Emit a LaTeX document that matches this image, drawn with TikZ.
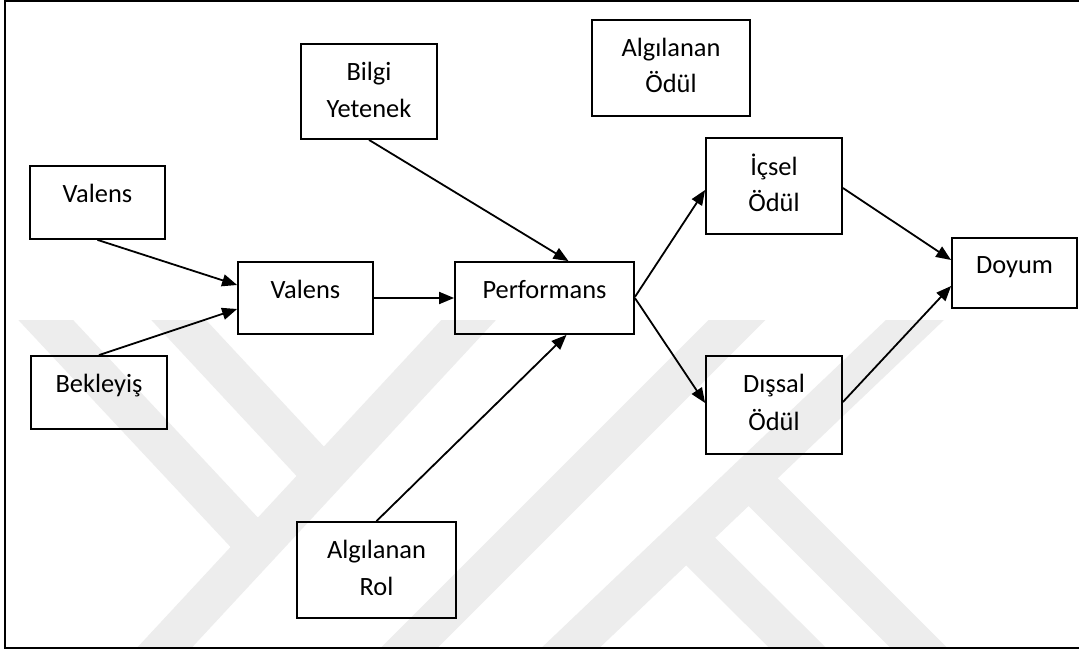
\documentclass[tikz,border=0pt]{standalone}
\usepackage{fontspec}
\setmainfont{Carlito}
\usetikzlibrary{arrows.meta}
\begin{document}
\begin{tikzpicture}[x=1pt,y=-1pt,
  box/.style={draw=black, line width=1.8pt, inner sep=0pt},
  lbl/.style={inner sep=0pt, text height=17pt, text depth=0pt, font=\fontsize{26.4}{37}\selectfont},
  arr/.style={line width=1.8pt, -{Triangle[length=15pt,width=12pt]}},
  wm/.style={line width=40pt, draw=black!7}]
\useasboundingbox (0,0) rectangle (1079,650);
\fill[white] (0,0) rectangle (1079,650);
% watermark
\begin{scope}
  \clip (6,320) rectangle (1079,647);
  \draw[wm] (27,300) -- (258,547);
  \draw[wm] (140,674) -- (490,297);
  \draw[wm] (160,300) -- (323,475);
  \draw[wm] (383,674) -- (757,300);
  \draw[wm] (543,674) -- (936,300);
  \draw[wm] (749,478) -- (945,674);
  \draw[wm] (686,537) -- (824,674);
\end{scope}
% frame (its right side lies outside the picture)
\draw[line width=1.5pt] (5,1) rectangle (1085,648);
% boxes
\node[box, minimum width=135pt, minimum height=73pt] (v1) at (97.5,202.5) {};
\node[box, minimum width=136pt, minimum height=73pt] (bek) at (99,392.5) {};
\node[box, minimum width=135pt, minimum height=72pt] (v2) at (305.5,298) {};
\node[box, minimum width=179pt, minimum height=72pt] (perf) at (544.5,298) {};
\node[box, minimum width=136pt, minimum height=95pt] (bilgi) at (369,91.5) {};
\node[box, minimum width=158pt, minimum height=96pt] (aod) at (671,68) {};
\node[box, minimum width=136pt, minimum height=96pt] (icsel) at (774,186) {};
\node[box, minimum width=136pt, minimum height=98pt] (dissal) at (774,405) {};
\node[box, minimum width=125pt, minimum height=70pt] (doyum) at (1014.5,273) {};
\node[box, minimum width=159pt, minimum height=96pt] (rol) at (376.5,570) {};
% labels
\node[lbl] (tv1) at ([yshift=-29pt]v1.north) {Valens};
\node[lbl] (tbek) at ([yshift=-29pt]bek.north) {Bekleyiş};
\node[lbl] (tv2) at ([yshift=-29pt]v2.north) {Valens};
\node[lbl] (tperf) at ([yshift=-29pt]perf.north) {Performans};
\node[lbl] (tbilgi1) at ([yshift=-29pt]bilgi.north) {Bilgi};
\node[lbl] (tbilgi2) at ([yshift=-66pt]bilgi.north) {Yetenek};
\node[lbl] (taod1) at ([yshift=-29pt]aod.north) {Algılanan};
\node[lbl] (taod2) at ([yshift=-65pt]aod.north) {Ödül};
\node[lbl] (ticsel1) at ([yshift=-30pt]icsel.north) {İçsel};
\node[lbl] (ticsel2) at ([yshift=-66pt]icsel.north) {Ödül};
\node[lbl] (tdis1) at ([yshift=-29pt]dissal.north) {Dışsal};
\node[lbl] (tdis2) at ([yshift=-67pt]dissal.north) {Ödül};
\node[lbl] (tdoyum) at ([yshift=-28pt]doyum.north) {Doyum};
\node[lbl] (trol1) at ([yshift=-29pt]rol.north) {Algılanan};
\node[lbl] (trol2) at ([yshift=-66pt]rol.north) {Rol};
% connectors
\draw[arr] (v1.south) -- ([yshift=13pt]v2.west);
\draw[arr] (bek.north) -- ([yshift=-11pt]v2.west);
\draw[arr] (v2.east) -- (perf.west);
\draw[arr] (bilgi.south) -- ([xshift=24pt]perf.north);
\draw[arr] (rol.north) -- ([xshift=22pt]perf.south);
\draw[arr] ([yshift=1pt]perf.east) -- ([yshift=-4pt]icsel.west);
\draw[arr] (perf.east) -- ([yshift=2pt]dissal.west);
\draw[arr] ([yshift=-2pt]icsel.east) -- ([yshift=13pt]doyum.west);
\draw[arr] ([yshift=3pt]dissal.east) -- ([yshift=-13pt]doyum.west);
\end{tikzpicture}
\end{document}
